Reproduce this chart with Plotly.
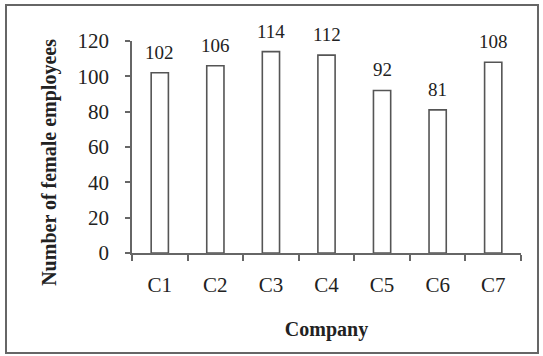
import plotly.graph_objects as go

companies = ["C1", "C2", "C3", "C4", "C5", "C6", "C7"]
female_employees = [102, 106, 114, 112, 92, 81, 108]
y_ticks = [0, 20, 40, 60, 80, 100, 120]

FONT = "Liberation Serif"
AX = "#666666"

fig = go.Figure()
fig.add_trace(go.Bar(
    x=companies, y=female_employees,
    marker=dict(color="white", line=dict(color="#555555", width=1.6)),
    hoverinfo="x+y",
))

for c, v in zip(companies, female_employees):
    fig.add_annotation(x=c, y=v, text=str(v), showarrow=False,
                       yanchor="bottom", yshift=8,
                       font=dict(family=FONT, size=19, color="#222222"))

# y-axis title (placed as annotation to match the reference's offset)
fig.add_annotation(xref="paper", yref="paper", x=-0.2108, y=0.43,
                   text="<b>Number of female employees</b>", textangle=-90,
                   showarrow=False, xanchor="center", yanchor="middle",
                   font=dict(family=FONT, size=20, color="#222222"))

# outer frame
fig.add_shape(type="rect", xref="paper", yref="paper",
              x0=-0.3239, x1=1.0437, y0=-0.4717, y1=1.1698,
              line=dict(color="#666666", width=2), fillcolor="rgba(0,0,0,0)",
              layer="above")

fig.update_layout(
    width=543, height=356,
    margin=dict(l=132, r=22, t=41, b=103, autoexpand=False),
    paper_bgcolor="white", plot_bgcolor="white",
    bargap=0.69, showlegend=False,
    font=dict(family=FONT, color="#222222"),
    xaxis=dict(
        type="category", showgrid=False, zeroline=False,
        showline=True, linecolor=AX, linewidth=1.5,
        ticks="outside", tickson="boundaries", ticklen=6, tickcolor=AX, tickwidth=1.5,
        tickfont=dict(family=FONT, size=21, color="#222222"),
        ticklabelstandoff=12,
        title=dict(text="<b>Company</b>", font=dict(family=FONT, size=20, color="#222222"), standoff=26),
    ),
    yaxis=dict(
        range=[0, 120], tickvals=y_ticks, showgrid=False, zeroline=False,
        showline=True, linecolor=AX, linewidth=1.5,
        ticks="outside", ticklen=5, tickcolor=AX, tickwidth=1.5,
        tickfont=dict(family=FONT, size=21, color="#222222"),
        ticklabelstandoff=12,
    ),
)

fig.write_html("out.html", config={"displayModeBar": False},
               post_script="document.body.style.margin='0';document.body.style.overflow='hidden';")
